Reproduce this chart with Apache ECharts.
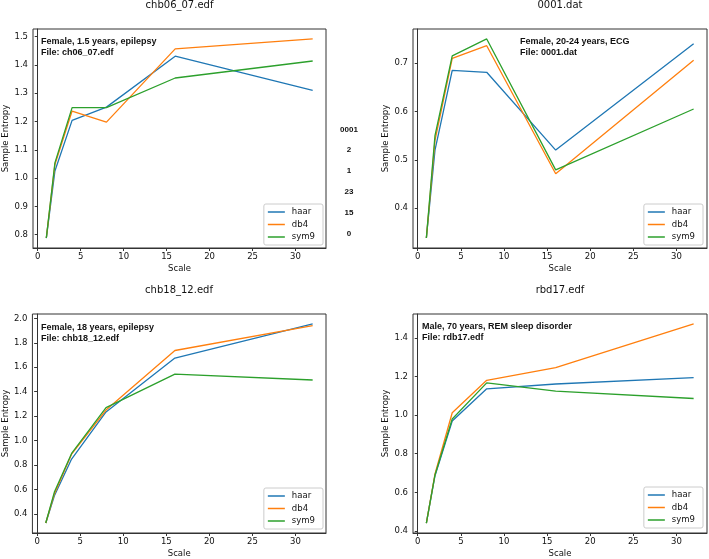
<!DOCTYPE html>
<html><head><meta charset="utf-8">
<script src="https://cdn.jsdelivr.net/npm/echarts@6/dist/echarts.min.js"></script>
<style>html,body{margin:0;padding:0;background:#fff}#c{width:709px;height:559px}</style>
</head><body><div id="c"></div>
<script>
// ---- data ----
const scales = [1, 2, 4, 8, 16, 32];
const seriesNames = ['haar', 'db4', 'sym9'];
const colors = ['#1f77b4', '#ff7f0e', '#2ca02c'];

const titles = ['chb06_07.edf', '0001.dat', 'chb18_12.edf', 'rbd17.edf'];
const notes = [
  'Female, 1.5 years, epilepsy\nFile: ch06_07.edf',
  'Female, 20-24 years, ECG\nFile: 0001.dat',
  'Female, 18 years, epilepsy\nFile: chb18_12.edf',
  'Male, 70 years, REM sleep disorder\nFile: rdb17.edf'
];
const middleLabels = ['0001', '2', '1', '23', '15', '0'];

// plot 1: chb06_07.edf
const p1_haar = [0.788, 1.025, 1.204, 1.251, 1.431, 1.310];
const p1_db4  = [0.788, 1.048, 1.237, 1.198, 1.457, 1.492];
const p1_sym9 = [0.788, 1.054, 1.249, 1.249, 1.354, 1.414];
// plot 2: 0001.dat
const p2_haar = [0.338, 0.520, 0.685, 0.681, 0.520, 0.740];
const p2_db4  = [0.338, 0.540, 0.710, 0.736, 0.471, 0.706];
const p2_sym9 = [0.338, 0.550, 0.715, 0.750, 0.479, 0.605];
// plot 3: chb18_12.edf
const p3_haar = [0.327, 0.550, 0.850, 1.235, 1.675, 1.954];
const p3_db4  = [0.327, 0.565, 0.890, 1.250, 1.737, 1.940];
const p3_sym9 = [0.327, 0.580, 0.896, 1.270, 1.544, 1.496];
// plot 4: rbd17.edf
const p4_haar = [0.441, 0.686, 0.969, 1.136, 1.161, 1.194];
const p4_db4  = [0.441, 0.695, 1.012, 1.180, 1.246, 1.472];
const p4_sym9 = [0.441, 0.690, 0.980, 1.167, 1.124, 1.086];

const xTicks = [0, 5, 10, 15, 20, 25, 30];
const yTicks1 = [0.8, 0.9, 1.0, 1.1, 1.2, 1.3, 1.4, 1.5];
const yTicks2 = [0.4, 0.5, 0.6, 0.7];
const yTicks3 = [0.4, 0.6, 0.8, 1.0, 1.2, 1.4, 1.6, 1.8, 2.0];
const yTicks4 = [0.4, 0.6, 0.8, 1.0, 1.2, 1.4];

// ---- build ----
const plots = [
  {vals: [p1_haar, p1_db4, p1_sym9], yTicks: yTicks1},
  {vals: [p2_haar, p2_db4, p2_sym9], yTicks: yTicks2},
  {vals: [p3_haar, p3_db4, p3_sym9], yTicks: yTicks3},
  {vals: [p4_haar, p4_db4, p4_sym9], yTicks: yTicks4}
];
const grids = [
  {left: 33, top: 29, width: 293, height: 219},
  {left: 413, top: 29, width: 294, height: 219},
  {left: 32, top: 314, width: 294, height: 220},
  {left: 413, top: 314, width: 294, height: 220}
];
const legendPos = [
  {right: 386, bottom: 314},
  {right: 6, bottom: 314},
  {right: 386, bottom: 30},
  {right: 6, bottom: 31}
];
const notePos = [[41, 42], [520, 42], [41, 328], [422, 327]];
const titleY = [5, 5, 290, 290];

const font = 'DejaVu Sans';
const txt = '#111';
const xMin = scales[0], xMax = scales[scales.length - 1];
const xPad = (xMax - xMin) * 0.05;

const option = {
  animation: false,
  backgroundColor: '#fff',
  grid: [], xAxis: [], yAxis: [], series: [], legend: [], graphic: []
};

plots.forEach((p, i) => {
  const g = grids[i];
  option.grid.push(Object.assign({show: true, borderColor: '#333', borderWidth: 1, containLabel: false}, g));
  let lo = Infinity, hi = -Infinity;
  p.vals.forEach(a => a.forEach(v => { lo = Math.min(lo, v); hi = Math.max(hi, v); }));
  const yPad = (hi - lo) * 0.05;
  option.xAxis.push({
    type: 'value', gridIndex: i, min: xMin - xPad, max: xMax + xPad,
    name: 'Scale', nameLocation: 'middle', nameGap: 16,
    nameTextStyle: {fontFamily: font, fontSize: 8.5, color: txt},
    splitLine: {show: false},
    axisLine: {show: true, lineStyle: {color: '#333'}},
    axisTick: {show: true, length: 3, lineStyle: {color: '#333'}, customValues: xTicks},
    axisLabel: {fontFamily: font, fontSize: 8.5, color: txt, margin: 4, customValues: xTicks,
      formatter: v => String(v)}
  });
  option.yAxis.push({
    type: 'value', gridIndex: i, min: lo - yPad, max: hi + yPad,
    name: 'Sample Entropy', nameLocation: 'middle', nameGap: 22,
    nameTextStyle: {fontFamily: font, fontSize: 8.5, color: txt},
    splitLine: {show: false},
    axisLine: {show: true, lineStyle: {color: '#333'}},
    axisTick: {show: true, length: 3, lineStyle: {color: '#333'}, customValues: p.yTicks},
    axisLabel: {fontFamily: font, fontSize: 8.5, color: txt, margin: 5, customValues: p.yTicks,
      formatter: v => v.toFixed(1)}
  });
  p.vals.forEach((arr, k) => {
    option.series.push({
      type: 'line', name: seriesNames[k], xAxisIndex: i, yAxisIndex: i,
      data: scales.map((s, j) => [s, arr[j]]),
      symbol: 'none', color: colors[k],
      lineStyle: {width: 1.3, color: colors[k]}
    });
  });
  option.legend.push(Object.assign({
    data: seriesNames.map(n => ({name: n, icon: 'rect'})),
    orient: 'vertical', itemWidth: 17, itemHeight: 1.5, itemGap: 2.5,
    padding: [3, 8, 3, 4], borderColor: '#ccc', borderWidth: 1, borderRadius: 2,
    backgroundColor: '#fff',
    textStyle: {fontFamily: font, fontSize: 8.5, color: txt, lineHeight: 10, padding: [0, 0, 0, 2]}
  }, legendPos[i]));
  option.graphic.push({
    type: 'text', x: g.left + g.width / 2, y: titleY[i],
    style: {text: titles[i], font: '10px "' + font + '"', fill: txt, align: 'center', verticalAlign: 'middle'}
  });
  option.graphic.push({
    type: 'text', x: notePos[i][0], y: notePos[i][1] - 5.5,
    style: {text: notes[i], font: 'bold 9px "Liberation Sans"', fill: txt, lineHeight: 11, align: 'left', verticalAlign: 'top'}
  });
});
option.graphic.push({
  type: 'text', x: 349, y: 119,
  style: {text: middleLabels.join('\n'), font: 'bold 8px "Liberation Sans"', fill: txt, lineHeight: 20.8, align: 'center', verticalAlign: 'top'}
});

const chart = echarts.init(document.getElementById('c'), null, {renderer: 'canvas'});
chart.setOption(option);
</script></body></html>
